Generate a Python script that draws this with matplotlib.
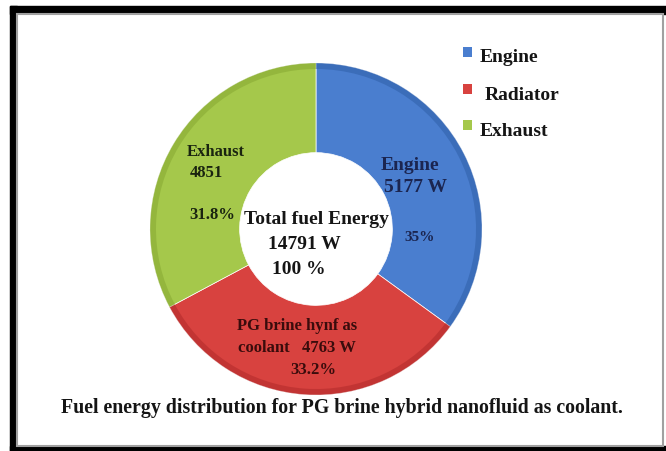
import matplotlib
matplotlib.use("Agg")
import matplotlib.pyplot as plt
from matplotlib.patches import Rectangle

plt.rcParams['font.family'] = ['Liberation Serif', 'DejaVu Serif']

parts = ['Engine', 'Radiator', 'Exhaust']
watts = [5177, 4763, 4851]
percent_labels = ['35%', '33.2%', '31.8%']
total_watts = 14791
colors = ['#4a7ecf', '#d8423f', '#a5c84b']
edge_dark = ['#2f5fa8', '#b02a2a', '#86a832']

W, H = 666, 452
fig = plt.figure(figsize=(W / 100, H / 100), dpi=100)
ax = fig.add_axes([0, 0, 1, 1])

# frame: thick black border on the left/top/bottom with a thin grey inner line
ax.add_patch(Rectangle((10, 0), 7, H - 7, color='black', zorder=0))
ax.add_patch(Rectangle((10, H - 15), W - 10, 8, color='black', zorder=0))
ax.add_patch(Rectangle((10, 0), W - 10, 5, color='black', zorder=0))
ax.add_patch(Rectangle((17, 5), 646, H - 20, facecolor='white', edgecolor='#a0a0a0', lw=1.5, zorder=0))

cx, cy, r = 316, 222, 166
ring = 0.54

# donut, starting at 12 o'clock and going clockwise
ax.pie(watts, colors=colors, startangle=90, counterclock=False,
       center=(cx, cy), radius=r, frame=True,
       wedgeprops=dict(width=r * ring, edgecolor='white', linewidth=0.5))
# darker rim for a bit of depth
ax.pie(watts, colors=edge_dark, startangle=90, counterclock=False,
       center=(cx, cy), radius=r, frame=True,
       wedgeprops=dict(width=6, edgecolor='none', alpha=0.55))
ax.set_xlim(0, W)
ax.set_ylim(0, H)
ax.set_aspect('equal')
ax.axis('off')

def y(p):
    return H - p

bold = dict(fontweight='bold', ha='center', va='center')

# centre text
ax.text(cx, y(220), 'Total fuel Energy', fontsize=14, color='#151515', **bold)
ax.text(cx - 12, y(245), f'{total_watts} W', fontsize=14, color='#151515', **bold)
ax.text(cx - 17, y(270), '100 %', fontsize=14, color='#151515', **bold)

# segment labels
ax.text(410, y(165), parts[0], fontsize=14, color='#1b2550', **bold)
ax.text(415, y(188), f'{watts[0]} W', fontsize=14, color='#1b2550', **bold)
ax.text(420, y(238), percent_labels[0], fontsize=11, color='#1b2550', **bold)

ax.text(216, y(152), parts[2], fontsize=12, color='#1a2410', **bold)
ax.text(206, y(173), str(watts[2]), fontsize=12, color='#1a2410', **bold)
ax.text(212, y(215), percent_labels[2], fontsize=12, color='#1a2410', **bold)

ax.text(297, y(326), 'PG brine hynf as', fontsize=12, color='#3a0c0c', **bold)
ax.text(297, y(348), f'coolant   {watts[1]} W', fontsize=12, color='#3a0c0c', **bold)
ax.text(313, y(370), percent_labels[1], fontsize=12, color='#3a0c0c', **bold)

# legend
legend_y = [53, 90, 126]
for name, c, ly in zip(parts, colors, legend_y):
    ax.add_patch(Rectangle((463, y(ly) - 5), 9, 10, facecolor=c, edgecolor='none'))
    ax.text(480 + (5 if name == 'Radiator' else 0), y(ly + 5), name, fontsize=14,
            fontweight='bold', color='#151515', ha='left', va='center')

ax.text(342, y(408), 'Fuel energy distribution for PG brine hybrid nanofluid as coolant.',
        fontsize=14.3, color='#151515', **bold)

fig.savefig('out.png', dpi=100, facecolor='white')
